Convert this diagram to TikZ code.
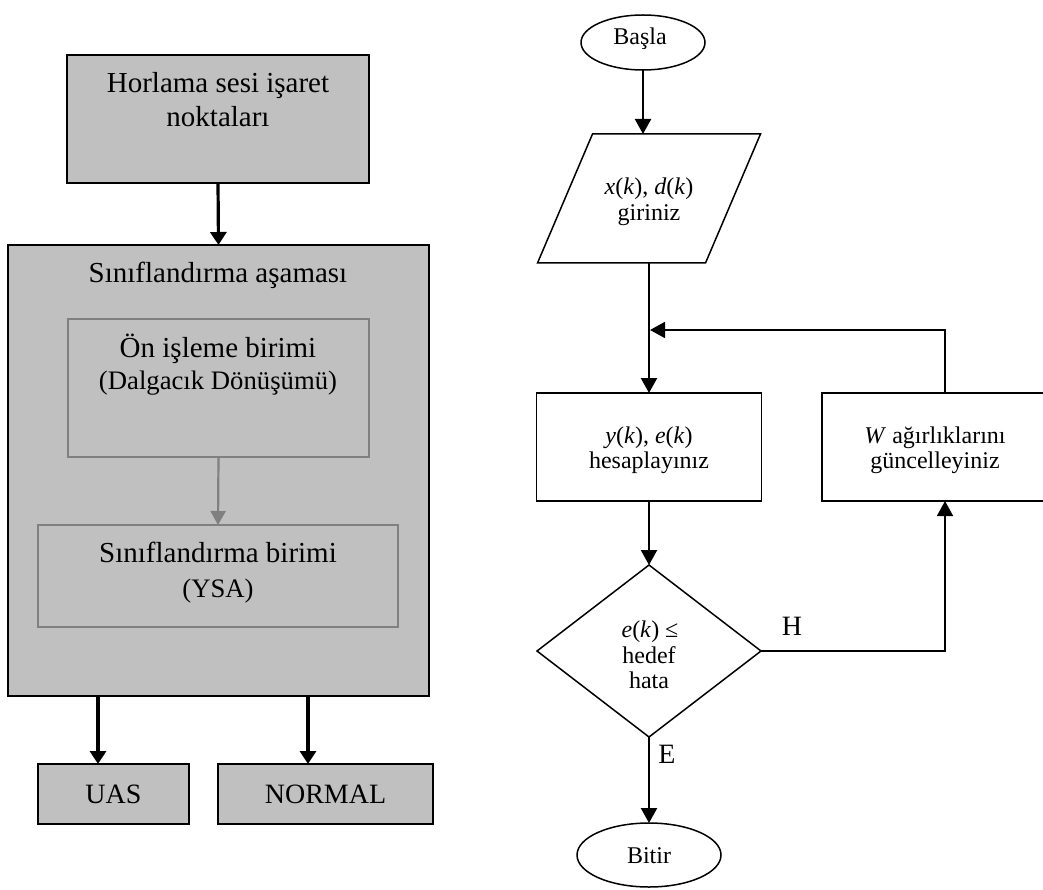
\documentclass[tikz,border=0pt]{standalone}
\usepackage{fontspec}
\setmainfont{Liberation Serif}
\usetikzlibrary{arrows.meta,shapes.geometric}

\definecolor{boxgray}{HTML}{C0C0C0}
\definecolor{framegray}{HTML}{808080}

\begin{document}
\begin{tikzpicture}[x=1pt,y=-1pt,
  bigtext/.style={font=\fontsize{29}{34}\selectfont, inner sep=0pt, anchor=base},
  midtext/.style={font=\fontsize{26.7}{31}\selectfont, inner sep=0pt, anchor=base},
  smalltext/.style={font=\fontsize{24}{28}\selectfont, inner sep=0pt, anchor=base},
  labeltext/.style={font=\fontsize{28}{32}\selectfont, inner sep=0pt, anchor=base},
  graybox/.style={draw=black, fill=boxgray, line width=1.8pt, inner sep=0pt, outer sep=0pt},
  innerbox/.style={draw=framegray, line width=1.6pt, inner sep=0pt, outer sep=0pt},
  flowbox/.style={draw=black, line width=1.5pt, inner sep=0pt, outer sep=0pt, fill=white},
  leftarrow/.style={line width=3.2pt, -{Triangle[length=13pt,width=16pt]}},
  grayarrow/.style={draw=framegray, line width=2.2pt, -{Triangle[length=14pt,width=15pt]}},
  flowarrow/.style={line width=2.2pt, -{Triangle[length=15pt,width=16pt]}},
  flowline/.style={line width=1.7pt}
]
\clip (0,0) rectangle (1043,890);
\fill[white] (0,0) rectangle (1043,890);

% ---------------- block diagram ----------------
\node[graybox, minimum width=302pt, minimum height=128pt] (horl) at (218,119) {};
\node[bigtext] (horlA) at (218,93) {Horlama sesi işaret};
\node[bigtext] (horlB) at (218,127) {noktaları};

\node[graybox, minimum width=421pt, minimum height=451pt] (stage) at (218.5,470.5) {};
\node[bigtext] (stageT) at (218,283) {Sınıflandırma aşaması};

\node[innerbox, minimum width=301pt, minimum height=138pt] (pre) at (218.5,388) {};
\node[bigtext] (preA) at (218,357) {Ön işleme birimi};
\node[midtext] (preB) at (218,389) {(Dalgacık Dönüşümü)};

\node[innerbox, minimum width=360pt, minimum height=102pt] (cls) at (218,576) {};
\node[bigtext] (clsA) at (218,562) {Sınıflandırma birimi};
\node[midtext] (clsB) at (218,597) {(YSA)};

\node[graybox, minimum width=151pt, minimum height=60pt] (uas) at (113.5,794) {};
\node[labeltext] (uasT) at (113.5,803) {UAS};
\node[graybox, minimum width=215pt, minimum height=60pt] (norm) at (325.5,794) {};
\node[labeltext] (normT) at (325.5,803) {NORMAL};

\draw[leftarrow] (horl.south) -- (stage.north);
\draw[grayarrow] (pre.south) -- (cls.north);
\draw[leftarrow] ([xshift=-15.5pt]uas.north |- stage.south) -- ([xshift=-15.5pt]uas.north);
\draw[leftarrow] ([xshift=-17.5pt]norm.north |- stage.south) -- ([xshift=-17.5pt]norm.north);

% ---------------- flowchart ----------------
\node[flowbox, ellipse, minimum width=124pt, minimum height=55pt] (start) at (643,42.5) {};
\node[smalltext] (startT) at (640,45) {Başla};

\node[inner sep=0pt, outer sep=0pt, minimum width=223pt, minimum height=129pt] (inp) at (649,198.5) {};
\draw[line width=1.5pt] ([xshift=55pt]inp.north west) -- (inp.north east)
  -- ([xshift=-55pt]inp.south east) -- (inp.south west) -- cycle;
\node[smalltext] (inpA) at (649,195) {\textit{x}(\textit{k}), \textit{d}(\textit{k})};
\node[smalltext] (inpB) at (649,221) {giriniz};

\node[flowbox, minimum width=225pt, minimum height=108pt] (calc) at (649,447) {};
\node[smalltext] (calcA) at (649,443) {\textit{y}(\textit{k}), \textit{e}(\textit{k})};
\node[smalltext] (calcB) at (649,468) {hesaplayınız};

\node[flowbox, minimum width=226pt, minimum height=108pt] (upd) at (935,447) {};
\node[smalltext] (updA) at (935,443) {\textit{W} ağırlıklarını};
\node[smalltext] (updB) at (935,468) {güncelleyiniz};

\node[flowbox, diamond, minimum width=224pt, minimum height=172pt] (test) at (649,651) {};
\node[smalltext] (testA) at (650,637) {\textit{e}(\textit{k}) ≤};
\node[smalltext] (testB) at (649,663) {hedef};
\node[smalltext] (testC) at (649,688) {hata};

\node[flowbox, ellipse, minimum width=144pt, minimum height=64pt] (stop) at (649,855) {};
\node[smalltext] (stopT) at (649,863) {Bitir};

\coordinate (join) at (649,330);

\draw[flowarrow] (start.south -| 643,0) -- (start.south |- inp.north);
\draw[flowline] (inp.south) -- (join);
\draw[flowarrow] (join) -- (calc.north);
\draw[flowline, -{Triangle[length=15pt,width=16pt]}, shorten >=1pt]
  ([xshift=10pt]upd.north) -- ([xshift=10pt]upd.north |- join) -- (join);
\draw[flowarrow] (calc.south) -- (test.north);
\draw[flowline, -{Triangle[length=15pt,width=16pt]}]
  (test.east) -- (test.east -| 945,0) -- ([xshift=10pt]upd.south);
\draw[flowarrow] (test.south) -- (stop.north);

\node[labeltext] (yes) at (667,763) {E};
\node[labeltext] (no) at (792,635) {H};
\end{tikzpicture}
\end{document}
